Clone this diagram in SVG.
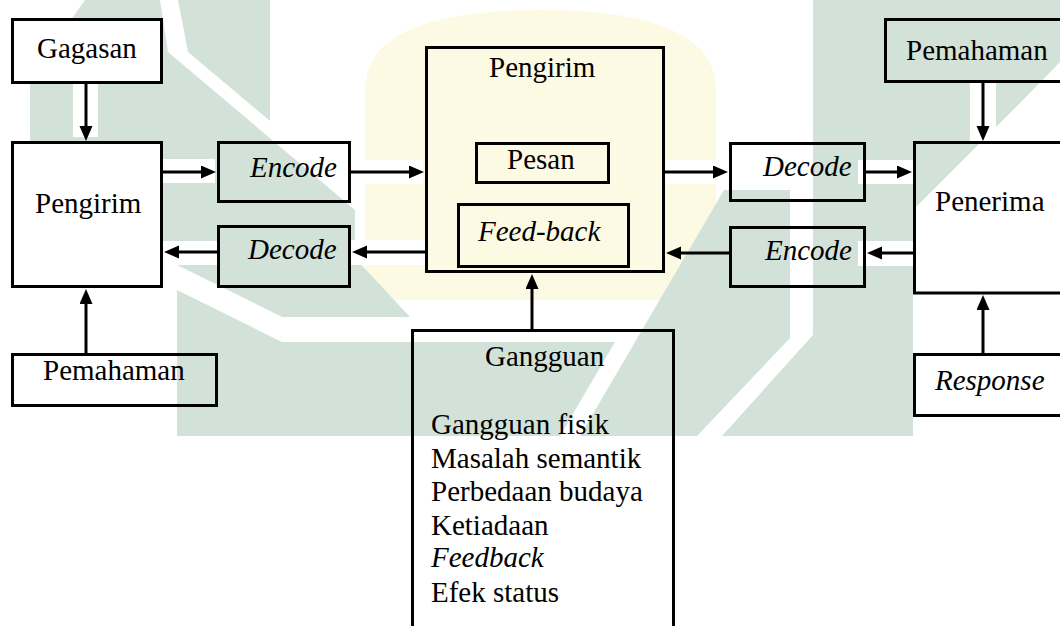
<svg xmlns="http://www.w3.org/2000/svg" width="1060" height="626" viewBox="0 0 1060 626">
<defs>
<style>
.box{fill:none;stroke:#000;stroke-width:3}
.wbox{fill:#fff;stroke:#000;stroke-width:3}
.t{font-family:"Liberation Serif","Times New Roman",serif;font-size:29px;fill:#000}
.i{font-style:italic}
.c{stroke:#000;stroke-width:3;fill:none;marker-end:url(#ah)}
.wm{fill:#d2e2d8}
.wy{fill:#fdfae4}
.wp{fill:#fff}
</style>
<marker id="ah" markerUnits="userSpaceOnUse" markerWidth="16" markerHeight="14" refX="7" refY="6.5" orient="auto"><path d="M0,0 L15,6.5 L0,13 z" fill="#000"/></marker>
</defs>
<rect width="1060" height="626" fill="#fff"/>
<g id="watermark">
<path class="wy" d="M365,300 V90 Q365,10 540,10 Q716,10 716,90 V300 Z"/>
<polygon class="wm" points="85,0 160,0 168,52 355,210 355,258 410,317 282,317 163,258 30,258 30,78"/>
<polygon class="wm" points="178,0 270,0 270,121 188,52"/>
<polygon class="wm" points="177,290 282,342 615,342 560,436 177,436"/>
<polygon class="wm" points="580,436 724,190 790,190 790,338 697,436"/>
<polygon class="wm" points="813,0 1060,0 1060,62 1023,100 913,210 913,436 722,436 813,335"/>
<rect class="wp" x="73" y="84" width="25" height="53"/>
<rect class="wp" x="157" y="159" width="58" height="24"/>
<rect class="wp" x="163" y="241" width="54" height="24"/>
<rect class="wp" x="351" y="160" width="72" height="24"/>
<rect class="wp" x="351" y="240" width="74" height="25"/>
<rect class="wp" x="665" y="160" width="63" height="24"/>
<rect class="wp" x="858" y="160" width="55" height="24"/>
<rect class="wp" x="858" y="241" width="55" height="25"/>
<rect class="wp" x="970" y="83" width="26" height="58"/>
</g>
<g id="connectors">
<path class="c" d="M86,84 V133"/>
<path class="c" d="M162,172 H208"/>
<path class="c" d="M351,172 H416"/>
<path class="c" d="M425,252 H360"/>
<path class="c" d="M217,252 H172"/>
<path class="c" d="M86,353 V297"/>
<path class="c" d="M532,329 V282"/>
<path class="c" d="M665,172 H720"/>
<path class="c" d="M866,172 H904"/>
<path class="c" d="M913,253 H875"/>
<path class="c" d="M729,253 H674"/>
<path class="c" d="M983,83 V133"/>
<path class="c" d="M983,353 V303"/>
</g>
<g id="gagasan"><rect class="wbox" x="12.5" y="19.5" width="149" height="63"/><text class="t" x="37" y="58">Gagasan</text></g>
<g id="pengirim-kiri"><rect class="wbox" x="12.5" y="142.5" width="149" height="144"/><text class="t" x="35" y="213">Pengirim</text></g>
<g id="encode-kiri"><rect class="box" x="218.5" y="142.5" width="131" height="59"/><text class="t i" x="250" y="177">Encode</text></g>
<g id="decode-kiri"><rect class="box" x="218.5" y="226.5" width="131" height="60"/><text class="t i" x="248" y="259">Decode</text></g>
<g id="pemahaman-kiri"><rect class="box" x="12.5" y="354.5" width="204" height="51"/><text class="t" x="43" y="380">Pemahaman</text></g>
<g id="pengirim-tengah"><rect class="box" x="426.5" y="47.5" width="237" height="224"/><text class="t" x="489" y="77">Pengirim</text></g>
<g id="pesan"><rect class="box" x="476.5" y="143.5" width="132" height="39"/><text class="t" x="507" y="169">Pesan</text></g>
<g id="feedback"><rect class="box" x="458.5" y="204.5" width="170" height="62"/><text class="t i" x="478" y="241">Feed-back</text></g>
<g id="gangguan">
<path class="box" d="M412.5,640 V330.5 H673.5 V640"/>
<text class="t" x="485" y="366">Gangguan</text>
<text class="t" x="431" y="434">Gangguan fisik</text>
<text class="t" x="431" y="468">Masalah semantik</text>
<text class="t" x="431" y="501">Perbedaan budaya</text>
<text class="t" x="431" y="535">Ketiadaan</text>
<text class="t i" x="431" y="567">Feedback</text>
<text class="t" x="431" y="602">Efek status</text>
</g>
<g id="decode-kanan"><rect class="box" x="730.5" y="143.5" width="134" height="57"/><text class="t i" x="763" y="176">Decode</text></g>
<g id="encode-kanan"><rect class="box" x="730.5" y="227.5" width="134" height="59"/><text class="t i" x="765" y="260">Encode</text></g>
<g id="pemahaman-kanan"><path class="box" d="M1070,19.5 H885.5 V81.5 H1070"/><text class="t" x="906" y="60">Pemahaman</text></g>
<g id="penerima"><path class="box" d="M1070,142.5 H914.5 V293 H1070"/><text class="t" x="935" y="211">Penerima</text></g>
<g id="response"><path class="box" d="M1070,354.5 H914.5 V415.5 H1070"/><text class="t i" x="935" y="390">Response</text></g>
</svg>
